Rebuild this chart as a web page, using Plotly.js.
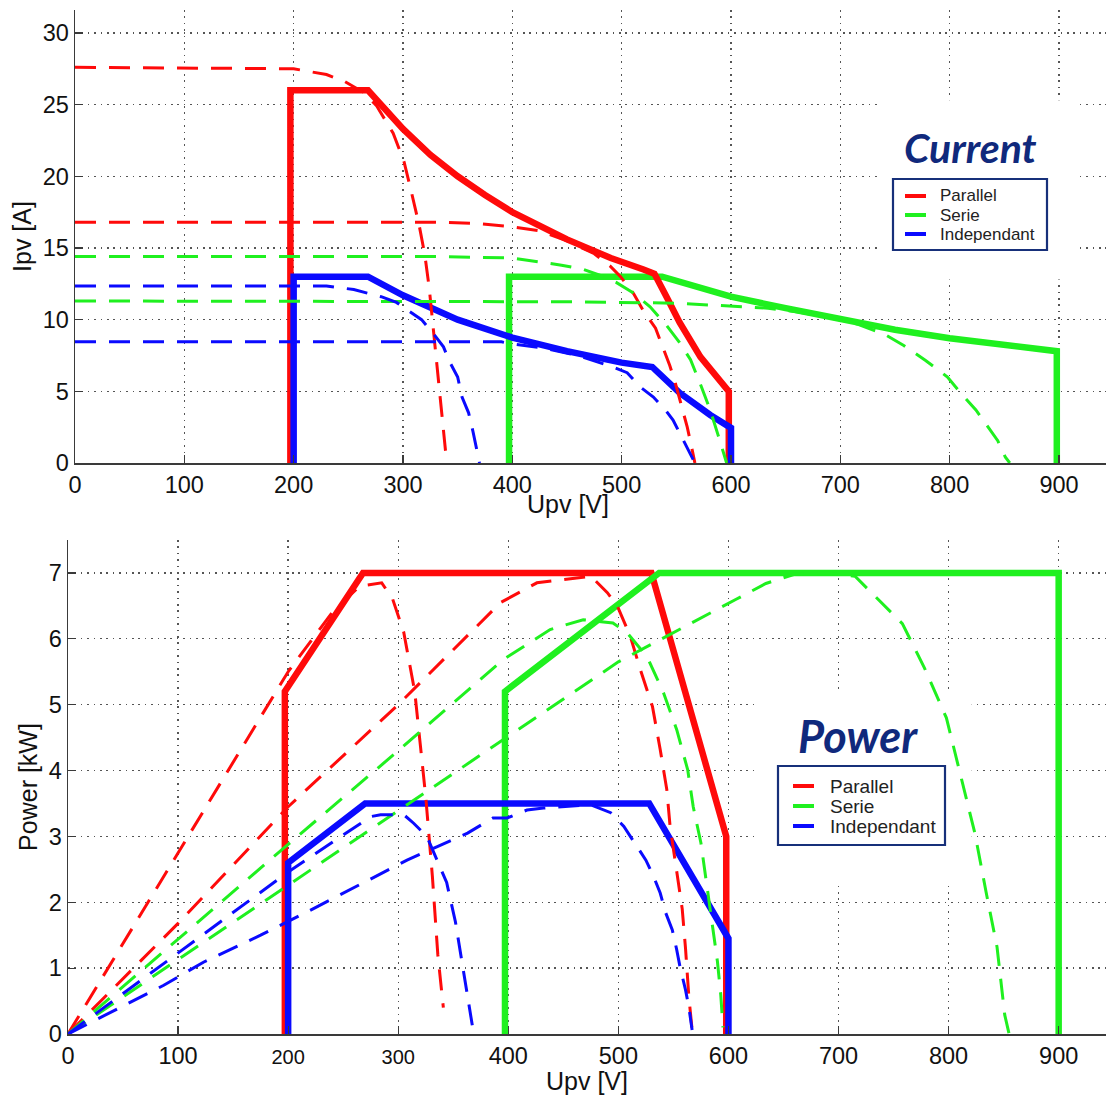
<!DOCTYPE html>
<html>
<head>
<meta charset="utf-8">
<script src="https://cdn.plot.ly/plotly-3.0.1.min.js"></script>
<style>
  html, body { margin: 0; padding: 0; background: #ffffff; }
  #chart { width: 1108px; height: 1095px; }
</style>
</head>
<body>
<div id="chart"></div>
<script>
// ---------------- Data: Current plot (Upv [V] vs Ipv [A]) ----------------
const seriesNames = ['Parallel', 'Serie', 'Independant'];

// solid (operating limit) curves
const iParSolidV = [197, 197, 268, 285, 300, 325, 350, 375, 400, 450, 490, 520, 530, 541, 553, 572, 598, 598];
const iParSolidI = [0, 26, 26, 24.5, 23.3, 21.5, 20.0, 18.7, 17.5, 15.6, 14.3, 13.5, 13.2, 11.6, 9.8, 7.4, 5.0, 0];
const iSerSolidV = [397, 397, 537, 560, 600, 650, 700, 750, 800, 850, 898, 898];
const iSerSolidI = [0, 13, 13, 12.5, 11.6, 10.8, 10.0, 9.3, 8.7, 8.2, 7.8, 0];
const iIndSolidV = [200, 200, 268, 285, 300, 350, 400, 450, 500, 528, 553, 581, 600, 600];
const iIndSolidI = [0, 13, 13, 12.3, 11.7, 10.0, 8.75, 7.8, 7.0, 6.7, 4.9, 3.35, 2.45, 0];

// dashed (PV I-V characteristics)
const iParDashAV = [0, 200, 230, 247, 265, 276, 291, 301, 308, 315, 320, 324, 327, 330, 333, 336, 339, 340];
const iParDashAI = [27.6, 27.5, 27.1, 26.6, 25.8, 24.9, 23.0, 21.0, 18.8, 16.5, 14.5, 12.2, 9.9, 7.5, 5.1, 2.8, 0.5, 0];
const iParDashBV = [0, 330, 370, 398, 425, 450, 475, 490, 499, 511, 520, 531, 538, 544, 549, 555, 560, 564, 567];
const iParDashBI = [16.8, 16.8, 16.7, 16.5, 16.2, 15.5, 14.6, 13.7, 13.0, 11.8, 10.6, 9.4, 8.0, 6.8, 5.6, 4.0, 2.5, 1.1, 0];
const iSerDashCV = [0, 330, 400, 420, 445, 465, 480, 495, 510, 526, 541, 553, 563, 572, 581, 588, 594, 596];
const iSerDashCI = [14.4, 14.4, 14.3, 14.1, 13.8, 13.5, 13.1, 12.6, 11.9, 10.9, 9.6, 8.4, 7.2, 5.5, 3.7, 2.0, 0.6, 0];
const iSerDashDV = [0, 450, 550, 600, 634, 660, 690, 715, 740, 758, 778, 798, 811, 824, 834, 844, 851, 855];
const iSerDashDI = [11.3, 11.25, 11.15, 10.95, 10.8, 10.55, 10.15, 9.7, 9.0, 8.2, 7.15, 6.0, 4.8, 3.7, 2.6, 1.56, 0.4, 0];
const iIndDashEV = [0, 230, 255, 280, 294, 307, 317, 327, 337, 343, 350, 354, 360, 364, 369, 370];
const iIndDashEI = [12.35, 12.35, 12.1, 11.6, 11.2, 10.5, 10.0, 9.1, 8.1, 7.0, 6.0, 4.6, 3.5, 2.2, 0.5, 0];
const iIndDashFV = [0, 390, 400, 430, 460, 492, 505, 517, 529, 540, 547, 555, 561, 565, 567];
const iIndDashFI = [8.45, 8.45, 8.3, 8.0, 7.5, 6.7, 6.3, 5.3, 4.6, 3.7, 3.0, 1.8, 1.0, 0.3, 0];

// ---------------- Data: Power plot (Upv [V] vs Power [kW]) ----------------
const pParSolidV = [197, 197, 268, 530, 598, 598];
const pParSolidP = [0, 5.2, 7.0, 7.0, 3.0, 0];
const pSerSolidV = [397, 397, 537, 900, 900];
const pSerSolidP = [0, 5.2, 7.0, 7.0, 0];
const pIndSolidV = [200, 200, 270, 528, 600, 600];
const pIndSolidP = [0, 2.6, 3.5, 3.5, 1.45, 0];

const pParDashAV = [0, 50, 100, 150, 200, 240, 265, 285, 295, 305, 315, 320, 325, 331, 336, 341];
const pParDashAP = [0, 1.38, 2.76, 4.14, 5.5, 6.4, 6.8, 6.85, 6.6, 6.1, 5.2, 4.4, 3.6, 2.4, 1.2, 0.4];
const pParDashBV = [0, 100, 200, 300, 393, 426, 475, 490, 499, 511, 520, 531, 538, 544, 547, 553, 558, 561, 564, 567];
const pParDashBP = [0, 1.68, 3.45, 5.0, 6.55, 6.85, 6.95, 6.7, 6.5, 6.03, 5.53, 4.97, 4.32, 3.71, 3.15, 2.5, 1.9, 1.3, 0.57, 0.06];
const pSerDashCV = [0, 100, 200, 300, 395, 438, 468, 495, 508, 520, 526, 541, 553, 563, 568, 575, 579, 585, 590, 593, 595];
const pSerDashCP = [0, 1.44, 2.88, 4.3, 5.68, 6.14, 6.29, 6.24, 6.09, 5.85, 5.73, 5.18, 4.62, 4.01, 3.45, 2.9, 2.4, 1.7, 1.1, 0.6, 0.1];
const pSerDashDV = [0, 200, 300, 400, 500, 607, 634, 660, 690, 715, 758, 778, 798, 811, 824, 834, 844, 851, 855];
const pSerDashDP = [0, 2.26, 3.39, 4.52, 5.65, 6.6, 6.84, 6.98, 7.0, 6.95, 6.23, 5.56, 4.8, 3.92, 3.04, 2.16, 1.32, 0.29, 0];
const pIndDashEV = [0, 100, 200, 275, 284, 305, 314, 326, 344, 352, 358, 364, 368];
const pIndDashEP = [0, 1.23, 2.46, 3.3, 3.33, 3.33, 3.2, 3.0, 2.3, 1.7, 1.1, 0.5, 0.06];
const pIndDashFV = [0, 87, 123, 175, 218, 247, 277, 308, 335, 363, 386, 399, 417, 432, 475, 493, 505, 515, 525, 532, 538, 543, 549, 553, 556, 561, 564, 567];
const pIndDashFP = [0, 0.74, 1.09, 1.5, 1.86, 2.11, 2.37, 2.64, 2.84, 3.05, 3.28, 3.28, 3.4, 3.43, 3.48, 3.36, 3.15, 2.9, 2.64, 2.39, 2.14, 1.84, 1.58, 1.28, 1.02, 0.67, 0.41, 0.06];

// ---------------- Tick labels ----------------
const xTickVals = [0, 100, 200, 300, 400, 500, 600, 700, 800, 900];
const xTickTextTop = ['0', '100', '200', '300', '400', '500', '600', '700', '800', '900'];
const xTickTextBottom = ['0', '100', '<span style="font-size:20px">200</span>', '<span style="font-size:20px">300</span>', '400', '500', '600', '700', '800', '900'];
const yTickValsTop = [0, 5, 10, 15, 20, 25, 30];
const yTickValsBottom = [0, 1, 2, 3, 4, 5, 6, 7];

// ---------------- Styles ----------------
const RED = '#ff0a0a', GREEN = '#1ff01f', BLUE = '#0a0aff';
const colors = [RED, GREEN, BLUE];
const SOLID_W = 6.5, DASH_W = 3;
const DASH = '21px,13px';

function solid(x, y, color, xa, ya) {
  return {x: x, y: y, type: 'scatter', mode: 'lines', xaxis: xa, yaxis: ya,
          line: {color: color, width: SOLID_W}, showlegend: false, hoverinfo: 'skip'};
}
function dashed(x, y, color, xa, ya) {
  return {x: x, y: y, type: 'scatter', mode: 'lines', xaxis: xa, yaxis: ya,
          line: {color: color, width: DASH_W, dash: DASH}, showlegend: false, hoverinfo: 'skip'};
}

const traces = [
  // Current plot solids
  solid(iSerSolidV, iSerSolidI, GREEN, 'x', 'y'),
  solid(iParSolidV, iParSolidI, RED, 'x', 'y'),
  solid(iIndSolidV, iIndSolidI, BLUE, 'x', 'y'),
  // Current plot dashed
  dashed(iParDashAV, iParDashAI, RED, 'x', 'y'),
  dashed(iParDashBV, iParDashBI, RED, 'x', 'y'),
  dashed(iSerDashCV, iSerDashCI, GREEN, 'x', 'y'),
  dashed(iSerDashDV, iSerDashDI, GREEN, 'x', 'y'),
  dashed(iIndDashEV, iIndDashEI, BLUE, 'x', 'y'),
  dashed(iIndDashFV, iIndDashFI, BLUE, 'x', 'y'),
  // Power plot solids
  solid(pParSolidV, pParSolidP, RED, 'x2', 'y2'),
  solid(pSerSolidV, pSerSolidP, GREEN, 'x2', 'y2'),
  solid(pIndSolidV, pIndSolidP, BLUE, 'x2', 'y2'),
  // Power plot dashed
  dashed(pParDashAV, pParDashAP, RED, 'x2', 'y2'),
  dashed(pParDashBV, pParDashBP, RED, 'x2', 'y2'),
  dashed(pSerDashCV, pSerDashCP, GREEN, 'x2', 'y2'),
  dashed(pSerDashDV, pSerDashDP, GREEN, 'x2', 'y2'),
  dashed(pIndDashEV, pIndDashEP, BLUE, 'x2', 'y2'),
  dashed(pIndDashFV, pIndDashFP, BLUE, 'x2', 'y2')
];

const W = 1108, H = 1095;
const FONT = 'Liberation Sans, Arial, sans-serif';
const tickFont = {family: FONT, size: 23.5, color: '#111111'};
const titleFont = {family: FONT, size: 25, color: '#111111'};

function axisCommon() {
  return {
    showline: true, linecolor: '#3a3a3a', linewidth: 1.5, mirror: false,
    ticks: 'inside', ticklen: 8, tickwidth: 1.2, tickcolor: '#3a3a3a',
    showgrid: true, gridcolor: '#555555', gridwidth: 1.4, griddash: '1.6px,4.8px',
    zeroline: false, tickfont: tickFont, automargin: false, fixedrange: true
  };
}

function px(x) { return x / W; }
function py(y) { return 1 - y / H; }

const xTop = Object.assign(axisCommon(), {
  domain: [75 / W, 1106 / W], range: [0, 943], anchor: 'y',
  tickmode: 'array', tickvals: xTickVals, ticktext: xTickTextTop
});
const yTop = Object.assign(axisCommon(), {
  domain: [1 - 463 / H, 1 - 10 / H], range: [0, 31.6], anchor: 'x',
  tickmode: 'array', tickvals: yTickValsTop,
  title: {text: 'Ipv [A]', font: titleFont, standoff: 4}
});
const xBot = Object.assign(axisCommon(), {
  domain: [68 / W, 1106 / W], range: [0, 943], anchor: 'y2',
  tickmode: 'array', tickvals: xTickVals, ticktext: xTickTextBottom,
  title: {text: 'Upv [V]', font: titleFont, standoff: 0}
});
const yBot = Object.assign(axisCommon(), {
  domain: [1 - 1034 / H, 1 - 540 / H], range: [0, 7.5], anchor: 'x2',
  tickmode: 'array', tickvals: yTickValsBottom,
  title: {text: 'Power [kW]', font: titleFont, standoff: 4}
});

// ---------------- Legends (drawn as boxed keys, pixel positions) ----------------
const NAVY = '#17307a';
function legendBox(box, lineX0, lineX1, rowsY, textX, fontSize) {
  const shapes = [{type: 'rect', xref: 'paper', yref: 'paper', x0: px(box[0]), x1: px(box[2]),
                   y0: py(box[3]), y1: py(box[1]), fillcolor: '#ffffff',
                   line: {color: NAVY, width: 2.2}, layer: 'above'}];
  const anns = [];
  seriesNames.forEach(function (n, k) {
    shapes.push({type: 'line', xref: 'paper', yref: 'paper', x0: px(lineX0), x1: px(lineX1),
                 y0: py(rowsY[k]), y1: py(rowsY[k]), line: {color: colors[k], width: 4}, layer: 'above'});
    anns.push({text: n, xref: 'paper', yref: 'paper', x: px(textX), y: py(rowsY[k]),
               xanchor: 'left', yanchor: 'middle', showarrow: false,
               font: {family: FONT, size: fontSize, color: '#222222'}});
  });
  return {shapes: shapes, anns: anns};
}
const legTop = legendBox([893, 179, 1047, 250], 905, 926, [196, 215, 234], 938, 17);
const legBot = legendBox([778, 766, 945, 845], 793, 814, [786, 806, 826], 828, 19);

const labelFontBase = {family: 'Lato, Open Sans, sans-serif', color: '#10297c', weight: 'bold', style: 'italic'};

const layout = {
  width: W, height: H,
  margin: {l: 0, r: 0, t: 0, b: 0},
  paper_bgcolor: '#ffffff', plot_bgcolor: 'rgba(0,0,0,0)',
  showlegend: false,
  xaxis: xTop, yaxis: yTop, xaxis2: xBot, yaxis2: yBot,
  annotations: [
    // x-axis title of the Current plot
    {text: 'Upv [V]', xref: 'paper', yref: 'paper', x: px(568), y: py(504),
     xanchor: 'center', yanchor: 'middle', showarrow: false, font: titleFont},
    {text: 'Current', xref: 'paper', yref: 'paper', x: px(970), y: py(147),
     xanchor: 'center', yanchor: 'middle', showarrow: false,
     font: Object.assign({size: 41}, labelFontBase)},
    {text: 'Power', xref: 'paper', yref: 'paper', x: px(858), y: py(736),
     xanchor: 'center', yanchor: 'middle', showarrow: false,
     font: Object.assign({size: 45}, labelFontBase)}
  ].concat(legTop.anns, legBot.anns),
  shapes: [
    {type: 'rect', xref: 'x', yref: 'y', x0: 734, x1: 916, y0: 12.8, y1: 25.3,
     fillcolor: '#ffffff', line: {width: 0}, layer: 'between'},
    {type: 'rect', xref: 'x2', yref: 'y2', x0: 626, x1: 821, y0: 2.25, y1: 5.2,
     fillcolor: '#ffffff', line: {width: 0}, layer: 'between'}
  ].concat(legTop.shapes, legBot.shapes)
};

Plotly.newPlot('chart', traces, layout, {staticPlot: true, displayModeBar: false});
</script>
</body>
</html>
